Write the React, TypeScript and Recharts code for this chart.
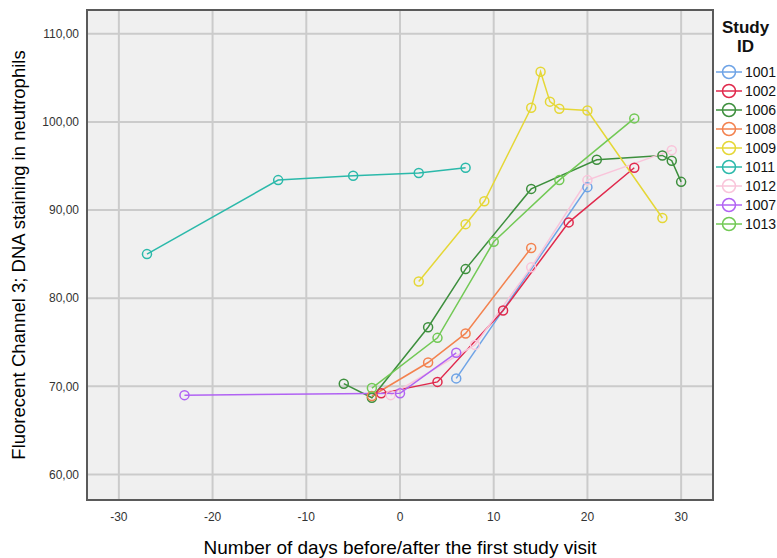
import { LineChart, Line, XAxis, YAxis, CartesianGrid } from 'recharts'

// days relative to first study visit, and channel 3 values, per study ID
const days1001 = [6, 20]
const vals1001 = [70.9, 92.6]
const days1002 = [-2, 4, 11, 18, 25]
const vals1002 = [69.2, 70.5, 78.6, 88.6, 94.8]
const days1006 = [-6, -3, 3, 7, 14, 21, 28, 29, 30]
const vals1006 = [70.3, 68.7, 76.7, 83.3, 92.4, 95.7, 96.2, 95.6, 93.2]
const days1008 = [-3, 3, 7, 14]
const vals1008 = [68.9, 72.7, 76.0, 85.7]
const days1009 = [2, 7, 9, 14, 15, 16, 17, 20, 28]
const vals1009 = [81.9, 88.4, 91.0, 101.6, 105.7, 102.3, 101.5, 101.3, 89.1]
const days1011 = [-27, -13, -5, 2, 7]
const vals1011 = [85.0, 93.4, 93.9, 94.2, 94.8]
const days1012 = [-1, 8, 14, 20, 29]
const vals1012 = [69.0, 74.7, 83.5, 93.4, 96.8]
const days1007 = [-23, 0, 6]
const vals1007 = [69.0, 69.2, 73.8]
const days1013 = [-3, 4, 10, 17, 25]
const vals1013 = [69.8, 75.5, 86.4, 93.4, 100.4]

const xTicks = [-30, -20, -10, 0, 10, 20, 30]
const yTicks = [60, 70, 80, 90, 100, 110]

const series = [
  { id: '1001', color: '#6ea3e6', days: days1001, vals: vals1001 },
  { id: '1002', color: '#e0294c', days: days1002, vals: vals1002 },
  { id: '1006', color: '#3d8f3d', days: days1006, vals: vals1006 },
  { id: '1008', color: '#f3824f', days: days1008, vals: vals1008 },
  { id: '1009', color: '#e5d736', days: days1009, vals: vals1009 },
  { id: '1011', color: '#2bb9aa', days: days1011, vals: vals1011 },
  { id: '1012', color: '#f9c4da', days: days1012, vals: vals1012 },
  { id: '1007', color: '#b163f3', days: days1007, vals: vals1007 },
  { id: '1013', color: '#72c955', days: days1013, vals: vals1013 },
]

const font = 'Arial, "Liberation Sans", sans-serif'

function StudyLegend() {
  return (
    <div style={{ position: 'absolute', left: 714, top: 18, width: 63, fontFamily: font, color: '#111' }}>
      <div style={{ textAlign: 'center', fontWeight: 'bold', fontSize: 17, lineHeight: '19px' }}>
        Study
        <br />
        ID
      </div>
      <div style={{ marginTop: 6 }}>
        {series.map((s) => (
          <div key={s.id} style={{ display: 'flex', alignItems: 'center', height: 19 }}>
            <svg width={30} height={16}>
              <line x1={2} y1={8} x2={28} y2={8} stroke={s.color} strokeWidth={1.5} />
              <circle cx={15} cy={8} r={6.5} fill="none" stroke={s.color} strokeWidth={1.5} />
            </svg>
            <span style={{ fontSize: 14, marginLeft: 1 }}>{s.id}</span>
          </div>
        ))}
      </div>
    </div>
  )
}

export default function App() {
  return (
    <div style={{ position: 'absolute', left: 0, top: 0, width: 777, height: 558, background: '#fff' }}>
      <LineChart
        width={777}
        height={558}
        margin={{ top: 10, right: 64, left: 0, bottom: 0 }}
        style={{ fontFamily: font }}
      >
        <CartesianGrid
          fill="#f0f0f0"
          stroke="#cbcbcb"
          strokeWidth={2}
          horizontalValues={yTicks}
          verticalValues={xTicks}
        />
        <XAxis
          type="number"
          dataKey="day"
          domain={[-33.4, 33.4]}
          ticks={xTicks}
          allowDataOverflow
          tickLine={false}
          axisLine={false}
          tickMargin={6}
          tick={{ fill: '#333', fontSize: 12 }}
          height={58}
          label={{
            value: 'Number of days before/after the first study visit',
            position: 'insideBottom',
            offset: 4,
            style: { fill: '#000', fontSize: 19 },
          }}
        />
        <YAxis
          type="number"
          domain={[57.1, 112.7]}
          ticks={yTicks}
          allowDataOverflow
          tickLine={false}
          axisLine={false}
          width={87}
          tick={{ fill: '#333', fontSize: 12 }}
          tickFormatter={(v: number) => v.toFixed(2).replace('.', ',')}
          label={{
            value: 'Fluorecent Channel 3; DNA staining in neutrophils',
            angle: -90,
            position: 'insideLeft',
            offset: 18,
            style: { fill: '#000', fontSize: 18.5, textAnchor: 'middle' },
          }}
        />
        {series.map((s) => (
          <Line
            key={s.id}
            data={s.days.map((d, i) => ({ day: d, value: s.vals[i] }))}
            dataKey="value"
            name={s.id}
            type="linear"
            stroke={s.color}
            strokeWidth={1.5}
            dot={{ r: 4.5, fill: 'none', stroke: s.color, strokeWidth: 1.5 }}
            activeDot={false}
            isAnimationActive={false}
          />
        ))}
      </LineChart>
      <div
        style={{
          position: 'absolute',
          left: 86,
          top: 9,
          width: 624,
          height: 488,
          border: '2px solid #5a5a5a',
          pointerEvents: 'none',
        }}
      />
      <StudyLegend />
    </div>
  )
}
